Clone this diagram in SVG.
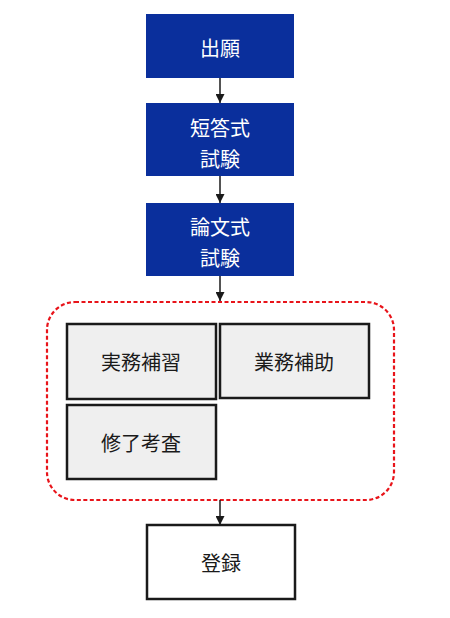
<svg xmlns="http://www.w3.org/2000/svg" width="450" height="618" viewBox="0 0 450 618">
<style>
.blue{fill:#0a2f9c;}
.wt{fill:#ffffff;font-family:"Noto Sans CJK JP","Noto Sans",sans-serif;font-size:20px;text-anchor:middle;dominant-baseline:central;}
.bt{fill:#1a1a1a;font-family:"Noto Sans CJK JP","Noto Sans",sans-serif;font-size:20px;text-anchor:middle;dominant-baseline:central;}
.gray{fill:#efefef;stroke:#1a1a1a;stroke-width:2.5;}
.wbox{fill:#ffffff;stroke:#1a1a1a;stroke-width:2.5;}
.conn{stroke:#1a1a1a;stroke-width:1.5;fill:none;marker-end:url(#ah);}
</style>
<defs>
<marker id="ah" viewBox="0 0 10 10" refX="10" refY="5" markerWidth="9" markerHeight="9" markerUnits="userSpaceOnUse" orient="auto">
<path d="M0,0 L10,5 L0,10 Z" fill="#1a1a1a"/>
</marker>
</defs>
<rect width="450" height="618" fill="#ffffff"/>
<g id="group-box">
<rect x="47" y="302" width="347" height="198" rx="28" ry="28" fill="none" stroke="#e8141a" stroke-width="2.2" stroke-dasharray="4,2.5"/>
</g>
<g id="connectors">
<line class="conn" x1="220" y1="78" x2="220" y2="103"/>
<line class="conn" x1="220" y1="176" x2="220" y2="203"/>
<line class="conn" x1="220" y1="276" x2="220" y2="301"/>
<line class="conn" x1="220" y1="500" x2="220" y2="525"/>
</g>
<g id="n1">
<rect class="blue" x="146" y="14" width="148" height="64"/>
<text class="wt" x="220" y="47">出願</text>
</g>
<g id="n2">
<rect class="blue" x="146" y="103" width="148" height="73"/>
<text class="wt" x="220" y="127">短答式</text>
<text class="wt" x="220" y="158">試験</text>
</g>
<g id="n3">
<rect class="blue" x="146" y="203" width="148" height="73"/>
<text class="wt" x="220" y="226">論文式</text>
<text class="wt" x="220" y="257">試験</text>
</g>
<g id="n4">
<rect class="gray" x="67" y="324" width="149" height="75"/>
<text class="bt" x="141" y="361">実務補習</text>
</g>
<g id="n5">
<rect class="gray" x="220" y="324" width="149" height="74"/>
<text class="bt" x="294" y="361">業務補助</text>
</g>
<g id="n6">
<rect class="gray" x="67" y="405" width="149" height="74"/>
<text class="bt" x="141" y="442">修了考査</text>
</g>
<g id="n7">
<rect class="wbox" x="147" y="525" width="148" height="74"/>
<text class="bt" x="221" y="562">登録</text>
</g>
</svg>
